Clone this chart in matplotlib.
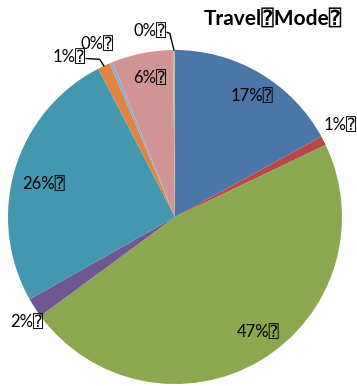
import numpy as np
import matplotlib
matplotlib.use("Agg")
import matplotlib.pyplot as plt

plt.rcParams['font.family'] = ['Lato', 'DejaVu Sans Mono', 'DejaVu Sans']

# travel modes, clockwise from 12 o'clock
modes = ["Car driver", "Car passenger", "Walk", "Bus", "Train", "Bicycle", "Motorcycle", "Taxi", "Other"]
shares = [17.0, 0.9, 47.0, 1.9, 25.6, 1.2, 0.3, 5.9, 0.2]
colors = ["#4A76A8", "#B8474A", "#8BA74F", "#6F5791", "#4397AE",
          "#DE8542", "#93A9CF", "#D19494", "#C6BD96"]
title = "Travel\u2370Mode\u2370"
box = "\u2370"

W, H = 357, 386
R = 167.0
cx, cy = 175.0, 169.0  # pie centre in pixels from bottom-left

fig = plt.figure(figsize=(W / 100, H / 100), dpi=100)
ax = fig.add_axes([0, 0, 1, 1])

wedges, _ = ax.pie(shares, colors=colors, startangle=90, counterclock=False,
                   radius=1.0, wedgeprops=dict(linewidth=0))
ax.set_aspect('auto')
ax.set_xlim(-cx / R, (W - cx) / R)
ax.set_ylim(-cy / R, (H - cy) / R)
ax.axis('off')

# label placement: (radius, dx, dy, leader line)
layout = [
    (0.85, 0.03, -0.01, False),
    (1.12, -0.01, 0.04, False),
    (0.83, 0.07, 0.02, False),
    (1.12, 0.05, -0.02, False),
    (0.82, 0.0, -0.035, False),
    (1.06, -0.18, 0.0, True),
    (1.12, -0.04, 0.0, False),
    (0.86, 0.02, -0.01, False),
    (1.12, -0.14, -0.005, True),
]

for w, val, (r, dx, dy, leader) in zip(wedges, shares, layout):
    ang = np.deg2rad((w.theta1 + w.theta2) / 2)
    x, y = r * np.cos(ang) + dx, r * np.sin(ang) + dy
    txt = f"{val:.0f}%{box}"
    if leader:
        # short horizontal run from the label, then down to the wedge edge
        ex, ey = np.cos(ang), np.sin(ang)
        ax.plot([x + 0.10, ex - 0.025, ex], [y - 0.01, y - 0.015, ey],
                color="black", lw=1)
    ax.text(x, y, txt, ha='center', va='center', fontsize=12, color="black")

fig.text(0.765, 0.952, title, ha='center', va='center', fontsize=15, fontweight='bold')

fig.savefig("out.png", dpi=100)
